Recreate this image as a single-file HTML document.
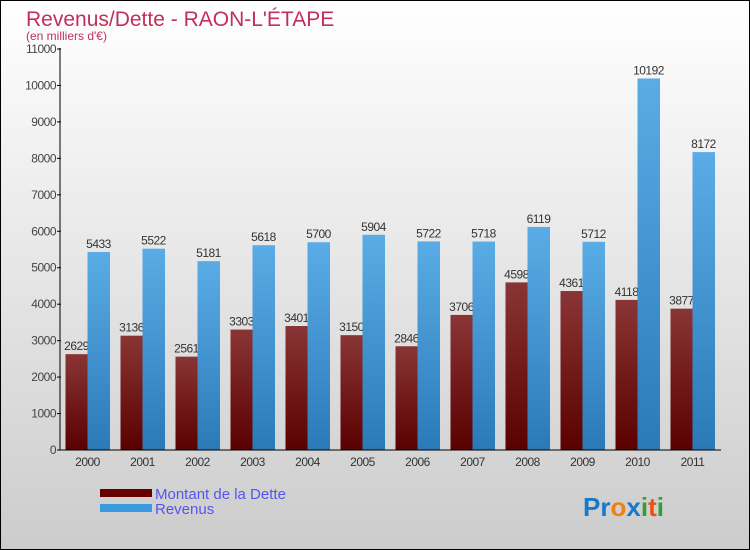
<!DOCTYPE html>
<html><head><meta charset="utf-8"><style>
body{margin:0;width:750px;height:550px;overflow:hidden;font-family:"Liberation Sans",sans-serif}
#wrap{position:absolute;left:0;top:0;width:748px;height:548px;border:1px solid #000;background:linear-gradient(#fff,#ccc)}
</style></head><body>
<div id="wrap">
<svg id="chart" width="750" height="550" style="position:absolute;left:-1px;top:-1px">
<defs>
<linearGradient id="gd" x1="0" y1="0" x2="0" y2="1"><stop offset="0" stop-color="#8a3535"/><stop offset="1" stop-color="#5a0000"/></linearGradient>
<linearGradient id="gb" x1="0" y1="0" x2="0" y2="1"><stop offset="0" stop-color="#5aace6"/><stop offset="1" stop-color="#2a7ab8"/></linearGradient>
</defs>
<text x="26" y="26" font-size="21" fill="#c0305a">Revenus/Dette - RAON-L'ÉTAPE</text>
<text x="26" y="40" font-size="12" fill="#c0305a">(en milliers d'€)</text>
<g id="g"></g>
<rect x="100" y="489" width="52" height="8" fill="#660000"/>
<rect x="100" y="504" width="52" height="8" fill="#3a9ae0"/>
<text x="155" y="499" font-size="15" fill="#5555ee">Montant de la Dette</text>
<text x="155" y="514" font-size="15" fill="#5555ee">Revenus</text>
<text x="583" y="516" font-size="26" font-weight="bold"><tspan fill="#1a78c8">Pr</tspan><tspan fill="#f08010">o</tspan><tspan fill="#1a78c8">x</tspan><tspan fill="#30a030">i</tspan><tspan fill="#f05010">t</tspan><tspan fill="#30a030">i</tspan></text>
</svg></div>
<script>
const years=["2000","2001","2002","2003","2004","2005","2006","2007","2008","2009","2010","2011"];
const dette=[2629,3136,2561,3303,3401,3150,2846,3706,4598,4361,4118,3877];
const revenus=[5433,5522,5181,5618,5700,5904,5722,5718,6119,5712,10192,8172];
const ticks=[0,1000,2000,3000,4000,5000,6000,7000,8000,9000,10000,11000];
const NS="http://www.w3.org/2000/svg",g=document.getElementById('g');
const y=v=>450-v*(401/11000), x0=i=>65.5+55*i;
function el(t,a,txt){const e=document.createElementNS(NS,t);for(const k in a)e.setAttribute(k,a[k]);if(txt!=null)e.textContent=txt;g.appendChild(e);return e;}
ticks.forEach(t=>{
 const l=el('line',{x1:57,x2:61,y1:y(t),y2:y(t),stroke:'#000'});
 
 
 const tx=el('text',{x:56,y:y(t)+4,'font-size':12,fill:'#444','text-anchor':'end','letter-spacing':'-0.5'},t);
 
 
});
years.forEach((yr,i)=>{
 const d=el('rect',{x:x0(i),y:y(dette[i]),width:22,height:450-y(dette[i]),fill:'url(#gd)'});
 
 
 const dl=el('text',{x:x0(i)+11,y:y(dette[i])-4,'font-size':12,fill:'#333','text-anchor':'middle','letter-spacing':'-0.5'},dette[i]);
 
 
});
years.forEach((yr,i)=>{
 const r=el('rect',{x:x0(i)+22,y:y(revenus[i]),width:22.5,height:450-y(revenus[i]),fill:'url(#gb)'});
 
 
 const rl=el('text',{x:x0(i)+33,y:y(revenus[i])-4,'font-size':12,fill:'#333','text-anchor':'middle','letter-spacing':'-0.5'},revenus[i]);
 
 
 const xl=el('text',{x:x0(i)+22,y:466,'font-size':12,fill:'#333','text-anchor':'middle','letter-spacing':'-0.5'},yr);
 
 
});
const ya=el('line',{x1:60,x2:60,y1:48,y2:450,stroke:'#000'});


const xa=el('line',{x1:60,x2:721,y1:450,y2:450,stroke:'#000'});


</script>
</body></html>
